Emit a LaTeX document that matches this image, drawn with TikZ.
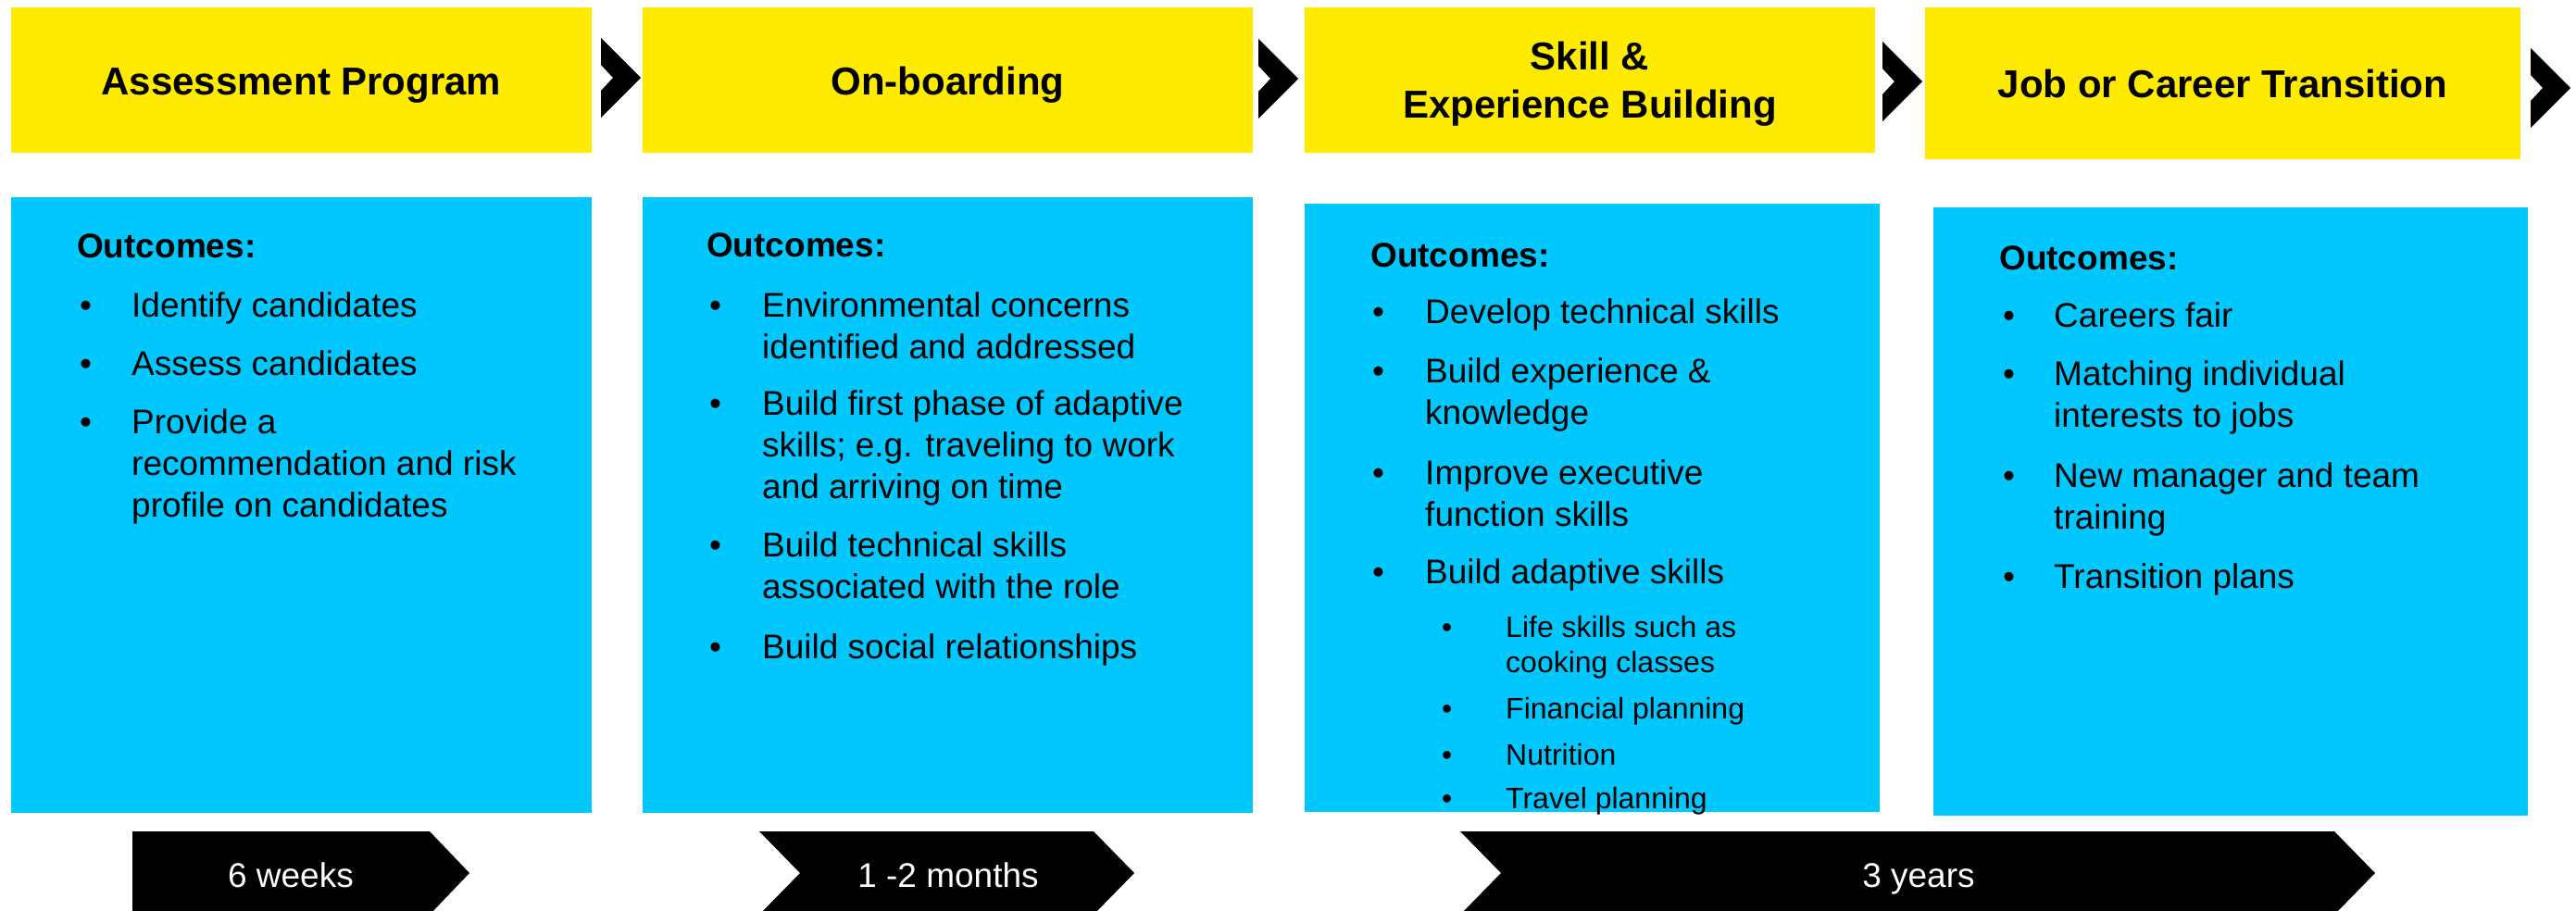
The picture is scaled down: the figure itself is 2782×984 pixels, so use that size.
\documentclass[tikz,border=0pt]{standalone}
\usepackage{fontspec}
\setmainfont{Liberation Sans}
\definecolor{phaseyellow}{HTML}{FFEB00}
\definecolor{outblue}{HTML}{00C8FF}
\begin{document}
\begin{tikzpicture}[x=1pt,y=-1pt,
  hdrbox/.style={fill=phaseyellow, draw=none, inner sep=0pt, anchor=north west},
  outbox/.style={fill=outblue, draw=none, inner sep=0pt, anchor=north west},
  hdr/.style={anchor=base, inner sep=0pt, align=center, font=\bfseries\fontsize{42}{52}\selectfont},
  txt/.style={anchor=base west, inner sep=0pt, align=left, font=\fontsize{37}{45}\selectfont},
  ttl/.style={txt, font=\bfseries\fontsize{37}{45}\selectfont},
  bul/.style={txt},
  sub/.style={anchor=base west, inner sep=0pt, align=left, font=\fontsize{32}{38}\selectfont},
  lbl/.style={anchor=base, inner sep=0pt, text=white, font=\fontsize{37}{45}\selectfont}]
\useasboundingbox (0,0) rectangle (2782,984);

% phase headers (multi-line texts are placed by the baseline of their last line)
\node[hdrbox, minimum width=627pt, minimum height=157pt] (h1) at (12,8) {};
\node[hdrbox, minimum width=659pt, minimum height=157pt] (h2) at (694,8) {};
\node[hdrbox, minimum width=616pt, minimum height=157pt] (h3) at (1409,8) {};
\node[hdrbox, minimum width=643pt, minimum height=164pt] (h4) at (2079,8) {};
\node[hdr] (h1t) at (325.5,103) {Assessment Program};
\node[hdr] (h2t) at (1023.5,103) {On-boarding};
\node[hdr] (h3t) at (1717,128) {Skill \&\\Experience Building};
\node[hdr] (h4t) at (2400.5,106) {Job or Career Transition};

% chevrons between the headers
\foreach \cx/\cy in {649/41, 1359/42, 2033/45, 2733/52}
  \fill[black] (\cx,\cy) -- ++(43,43) -- ++(-43,43) -- ++(0,-29) -- ++(13,-14) -- ++(-13,-14) -- cycle;

% outcome panels
\node[outbox, minimum width=627pt, minimum height=665pt] (b1) at (12,213) {};
\node[outbox, minimum width=659pt, minimum height=665pt] (b2) at (694,213) {};
\node[outbox, minimum width=621pt, minimum height=657pt] (b3) at (1409,220) {};
\node[outbox, minimum width=642pt, minimum height=657pt] (b4) at (2088,224) {};

% panel 1
\node[ttl] (o1) at (83,279) {Outcomes:};
\node[bul] (d1a) at (86,342) {•};
\node[txt] (t1a) at (142,342) {Identify candidates};
\node[bul] (d1b) at (86,405) {•};
\node[txt] (t1b) at (142,405) {Assess candidates};
\node[bul] (d1c) at (86,468) {•};
\node[txt] (t1c) at (142,558) {Provide a\\recommendation and risk\\profile on candidates};

% panel 2
\node[ttl] (o2) at (763,278) {Outcomes:};
\node[bul] (d2a) at (766,342) {•};
\node[txt] (t2a) at (823,387) {Environmental concerns\\identified and addressed};
\node[bul] (d2b) at (766,448) {•};
\node[txt] (t2b) at (823,538) {Build first phase of adaptive\\skills; e.g. traveling to work\\and arriving on time};
\node[bul] (d2c) at (766,601) {•};
\node[txt] (t2c) at (823,646) {Build technical skills\\associated with the role};
\node[bul] (d2d) at (766,711) {•};
\node[txt] (t2d) at (823,711) {Build social relationships};

% panel 3
\node[ttl] (o3) at (1480,289) {Outcomes:};
\node[bul] (d3a) at (1482,349) {•};
\node[txt] (t3a) at (1539,349) {Develop technical skills};
\node[bul] (d3b) at (1482,413) {•};
\node[txt] (t3b) at (1539,458) {Build experience \&\\knowledge};
\node[bul] (d3c) at (1482,523) {•};
\node[txt] (t3c) at (1539,568) {Improve executive\\function skills};
\node[bul] (d3d) at (1482,630) {•};
\node[txt] (t3d) at (1539,630) {Build adaptive skills};
\node[sub] (d3e) at (1557,688) {•};
\node[sub] (t3e) at (1626,726) {Life skills such as\\cooking classes};
\node[sub] (d3f) at (1557,776) {•};
\node[sub] (t3f) at (1626,776) {Financial planning};
\node[sub] (d3g) at (1557,826) {•};
\node[sub] (t3g) at (1626,826) {Nutrition};
\node[sub] (d3h) at (1557,873) {•};
\node[sub] (t3h) at (1626,873) {Travel planning};

% panel 4
\node[ttl] (o4) at (2159,292) {Outcomes:};
\node[bul] (d4a) at (2163,353) {•};
\node[txt] (t4a) at (2218,353) {Careers fair};
\node[bul] (d4b) at (2163,416) {•};
\node[txt] (t4b) at (2218,461) {Matching individual\\interests to jobs};
\node[bul] (d4c) at (2163,526) {•};
\node[txt] (t4c) at (2218,571) {New manager and team\\training};
\node[bul] (d4d) at (2163,635) {•};
\node[txt] (t4d) at (2218,635) {Transition plans};

% duration arrows
\fill[black] (143,898) -- (464,898) -- (507,943) -- (464,988) -- (143,988) -- cycle;
\fill[black] (820,898) -- (1181,898) -- (1225,943) -- (1181,988) -- (820,988) -- (864,943) -- cycle;
\fill[black] (1577,898) -- (2521,898) -- (2565,943) -- (2521,988) -- (1577,988) -- (1621,943) -- cycle;
\node[lbl] (l1) at (314,958) {6 weeks};
\node[lbl] (l2) at (1024,958) {1 -2 months};
\node[lbl] (l3) at (2072,958) {3 years};
\end{tikzpicture}
\end{document}
